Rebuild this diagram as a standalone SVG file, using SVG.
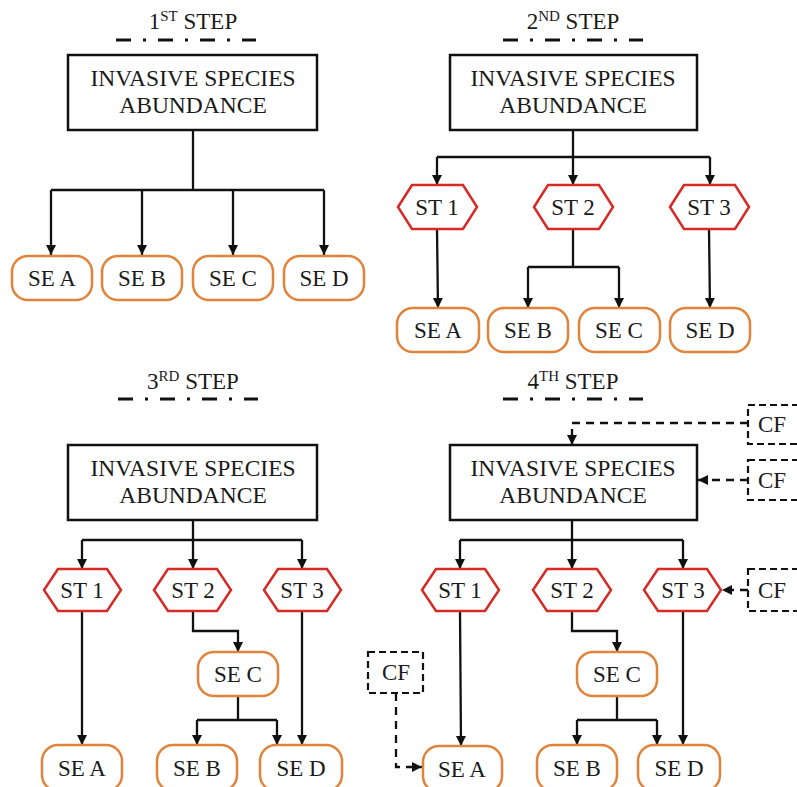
<svg xmlns="http://www.w3.org/2000/svg" width="797" height="787" viewBox="0 0 797 787">
  <defs>
    <marker id="arrow" viewBox="0 0 10 10" refX="10" refY="5" markerWidth="10" markerHeight="11" markerUnits="userSpaceOnUse" orient="auto">
      <path d="M0,0 L10,5 L0,10 z" fill="#111"/>
    </marker>
    <style>
      .title { font-size: 23px; }
      .sup { font-size: 15px; }
      .main { fill: #fff; stroke: #111; stroke-width: 2.5; }
      .main-t { font-size: 23.5px; }
      .st { fill: #fff; stroke: #d62a26; stroke-width: 2.5; }
      .se { fill: #fff; stroke: #e0843c; stroke-width: 2.5; }
      .cf { fill: #fff; stroke: #111; stroke-width: 2.2; stroke-dasharray: 7 4; }
      .lbl { font-size: 23px; }
      .rule { stroke: #111; stroke-width: 3; stroke-dasharray: 15 12 3 12; fill: none; }
      .edge { fill: none; stroke: #111; stroke-width: 2.3; }
      .dash { fill: none; stroke: #111; stroke-width: 2.3; stroke-dasharray: 8 6; }
    </style>
  </defs>

  <rect width="797" height="787" fill="#fff"/>

  <g font-family="'Liberation Serif', 'Times New Roman', 'DejaVu Serif', serif" fill="#1a1a1a" text-anchor="middle">

  <!-- step headings -->
  <g id="headings">
    <text class="title" x="193" y="29">1<tspan class="sup" dy="-8">ST</tspan><tspan dy="8"> STEP</tspan></text>
    <line class="rule" x1="116" y1="40" x2="256" y2="40"/>
    <text class="title" x="573" y="29">2<tspan class="sup" dy="-8">ND</tspan><tspan dy="8"> STEP</tspan></text>
    <line class="rule" x1="503" y1="40" x2="643" y2="40"/>
    <text class="title" x="193" y="389">3<tspan class="sup" dy="-8">RD</tspan><tspan dy="8"> STEP</tspan></text>
    <line class="rule" x1="118" y1="399" x2="258" y2="399"/>
    <text class="title" x="573" y="389">4<tspan class="sup" dy="-8">TH</tspan><tspan dy="8"> STEP</tspan></text>
    <line class="rule" x1="503" y1="399" x2="643" y2="399"/>
  </g>

  <!-- connectors -->
  <g id="connectors">
    <!-- step 1 -->
    <path class="edge" d="M193,130 V190 M51,190 H324"/>
    <path class="edge" d="M51,190 V255" marker-end="url(#arrow)"/>
    <path class="edge" d="M142,190 V255" marker-end="url(#arrow)"/>
    <path class="edge" d="M233,190 V255" marker-end="url(#arrow)"/>
    <path class="edge" d="M324,190 V255" marker-end="url(#arrow)"/>

    <!-- step 2 -->
    <path class="edge" d="M573,130 V157 M437,157 H710"/>
    <path class="edge" d="M437,157 V185" marker-end="url(#arrow)"/>
    <path class="edge" d="M573,157 V185" marker-end="url(#arrow)"/>
    <path class="edge" d="M710,157 V185" marker-end="url(#arrow)"/>
    <path class="edge" d="M437,229 L438,308" marker-end="url(#arrow)"/>
    <path class="edge" d="M573,229 V267 M528,267 H619"/>
    <path class="edge" d="M528,267 V308" marker-end="url(#arrow)"/>
    <path class="edge" d="M619,267 V308" marker-end="url(#arrow)"/>
    <path class="edge" d="M709,229 L710,308" marker-end="url(#arrow)"/>

    <!-- step 3 -->
    <path class="edge" d="M193,520 V540 M82,540 H302"/>
    <path class="edge" d="M82,540 V569" marker-end="url(#arrow)"/>
    <path class="edge" d="M193,540 V569" marker-end="url(#arrow)"/>
    <path class="edge" d="M302,540 V569" marker-end="url(#arrow)"/>
    <path class="edge" d="M82,611 V745" marker-end="url(#arrow)"/>
    <path class="edge" d="M193,611 V631 H238 V652" marker-end="url(#arrow)"/>
    <path class="edge" d="M238,696 V720 M197,720 H277"/>
    <path class="edge" d="M197,720 V745" marker-end="url(#arrow)"/>
    <path class="edge" d="M277,720 V745" marker-end="url(#arrow)"/>
    <path class="edge" d="M302,611 V745" marker-end="url(#arrow)"/>

    <!-- step 4 -->
    <path class="edge" d="M572,520 V540 M460,540 H683"/>
    <path class="edge" d="M460,540 V569" marker-end="url(#arrow)"/>
    <path class="edge" d="M572,540 V569" marker-end="url(#arrow)"/>
    <path class="edge" d="M683,540 V569" marker-end="url(#arrow)"/>
    <path class="edge" d="M460,611 L461,746" marker-end="url(#arrow)"/>
    <path class="edge" d="M572,611 V631 H617 V652" marker-end="url(#arrow)"/>
    <path class="edge" d="M617,696 V720 M577,720 H657"/>
    <path class="edge" d="M577,720 V745" marker-end="url(#arrow)"/>
    <path class="edge" d="M657,720 V745" marker-end="url(#arrow)"/>
    <path class="edge" d="M683,611 V745" marker-end="url(#arrow)"/>

    <!-- confounding factors -->
    <path class="dash" d="M748,423 H572 V445" marker-end="url(#arrow)"/>
    <path class="dash" d="M748,480 H698" marker-end="url(#arrow)"/>
    <path class="dash" d="M748,590 H722" marker-end="url(#arrow)"/>
    <path class="dash" d="M396,693 V767 H422" marker-end="url(#arrow)"/>
  </g>

  <!-- step 1 nodes -->
  <g id="s1-abundance"><rect class="main" x="68" y="55" width="249" height="75"/>
    <text class="main-t" x="193" y="86">INVASIVE SPECIES</text><text class="main-t" x="193" y="113">ABUNDANCE</text></g>
  <g id="s1-se-a"><rect class="se" x="12" y="256" width="80" height="44" rx="16"/><text class="lbl" x="52" y="286">SE A</text></g>
  <g id="s1-se-b"><rect class="se" x="102" y="256" width="80" height="44" rx="16"/><text class="lbl" x="142" y="286">SE B</text></g>
  <g id="s1-se-c"><rect class="se" x="193" y="256" width="80" height="44" rx="16"/><text class="lbl" x="233" y="286">SE C</text></g>
  <g id="s1-se-d"><rect class="se" x="284" y="256" width="80" height="44" rx="16"/><text class="lbl" x="324" y="286">SE D</text></g>

  <!-- step 2 nodes -->
  <g id="s2-abundance"><rect class="main" x="450" y="55" width="247" height="75"/>
    <text class="main-t" x="573" y="86">INVASIVE SPECIES</text><text class="main-t" x="573" y="113">ABUNDANCE</text></g>
  <g id="s2-st1"><polygon class="st" points="398,207 412,185 463,185 477,207 463,229 412,229"/><text class="lbl" x="437" y="215">ST 1</text></g>
  <g id="s2-st2"><polygon class="st" points="534,207 548,185 599,185 613,207 599,229 548,229"/><text class="lbl" x="573" y="215">ST 2</text></g>
  <g id="s2-st3"><polygon class="st" points="670,207 684,185 735,185 749,207 735,229 684,229"/><text class="lbl" x="709" y="215">ST 3</text></g>
  <g id="s2-se-a"><rect class="se" x="397" y="308" width="82" height="44" rx="16"/><text class="lbl" x="438" y="338">SE A</text></g>
  <g id="s2-se-b"><rect class="se" x="488" y="308" width="80" height="44" rx="16"/><text class="lbl" x="528" y="338">SE B</text></g>
  <g id="s2-se-c"><rect class="se" x="579" y="308" width="81" height="44" rx="16"/><text class="lbl" x="619" y="338">SE C</text></g>
  <g id="s2-se-d"><rect class="se" x="670" y="308" width="80" height="44" rx="16"/><text class="lbl" x="710" y="338">SE D</text></g>

  <!-- step 3 nodes -->
  <g id="s3-abundance"><rect class="main" x="68" y="445" width="249" height="75"/>
    <text class="main-t" x="193" y="476">INVASIVE SPECIES</text><text class="main-t" x="193" y="503">ABUNDANCE</text></g>
  <g id="s3-st1"><polygon class="st" points="44,590 58,569 107,569 121,590 107,611 58,611"/><text class="lbl" x="82" y="598">ST 1</text></g>
  <g id="s3-st2"><polygon class="st" points="154,590 168,569 217,569 231,590 217,611 168,611"/><text class="lbl" x="193" y="598">ST 2</text></g>
  <g id="s3-st3"><polygon class="st" points="264,590 278,569 327,569 341,590 327,611 278,611"/><text class="lbl" x="302" y="598">ST 3</text></g>
  <g id="s3-se-c"><rect class="se" x="198" y="652" width="80" height="44" rx="16"/><text class="lbl" x="238" y="682">SE C</text></g>
  <g id="s3-se-a"><rect class="se" x="42" y="745" width="80" height="46" rx="16"/><text class="lbl" x="82" y="776">SE A</text></g>
  <g id="s3-se-b"><rect class="se" x="157" y="745" width="80" height="46" rx="16"/><text class="lbl" x="197" y="776">SE B</text></g>
  <g id="s3-se-d"><rect class="se" x="260" y="745" width="82" height="46" rx="16"/><text class="lbl" x="301" y="776">SE D</text></g>

  <!-- step 4 nodes -->
  <g id="s4-abundance"><rect class="main" x="450" y="445" width="247" height="75"/>
    <text class="main-t" x="573" y="476">INVASIVE SPECIES</text><text class="main-t" x="573" y="503">ABUNDANCE</text></g>
  <g id="s4-st1"><polygon class="st" points="422,590 436,569 485,569 499,590 485,611 436,611"/><text class="lbl" x="460" y="598">ST 1</text></g>
  <g id="s4-st2"><polygon class="st" points="533,590 547,569 597,569 611,590 597,611 547,611"/><text class="lbl" x="572" y="598">ST 2</text></g>
  <g id="s4-st3"><polygon class="st" points="644,590 658,569 707,569 721,590 707,611 658,611"/><text class="lbl" x="683" y="598">ST 3</text></g>
  <g id="s4-se-c"><rect class="se" x="577" y="652" width="80" height="44" rx="16"/><text class="lbl" x="617" y="682">SE C</text></g>
  <g id="s4-se-a"><rect class="se" x="423" y="746" width="79" height="46" rx="16"/><text class="lbl" x="462" y="777">SE A</text></g>
  <g id="s4-se-b"><rect class="se" x="537" y="745" width="80" height="46" rx="16"/><text class="lbl" x="577" y="776">SE B</text></g>
  <g id="s4-se-d"><rect class="se" x="638" y="745" width="82" height="46" rx="16"/><text class="lbl" x="679" y="776">SE D</text></g>

  <!-- confounding factor boxes -->
  <g id="cf-1"><rect class="cf" x="748" y="405" width="60" height="39"/><text class="lbl" x="772" y="432">CF</text></g>
  <g id="cf-2"><rect class="cf" x="748" y="460" width="60" height="40"/><text class="lbl" x="772" y="488">CF</text></g>
  <g id="cf-3"><rect class="cf" x="748" y="569" width="60" height="42"/><text class="lbl" x="772" y="598">CF</text></g>
  <g id="cf-4"><rect class="cf" x="368" y="652" width="55" height="41"/><text class="lbl" x="396" y="680">CF</text></g>

  </g>
</svg>
